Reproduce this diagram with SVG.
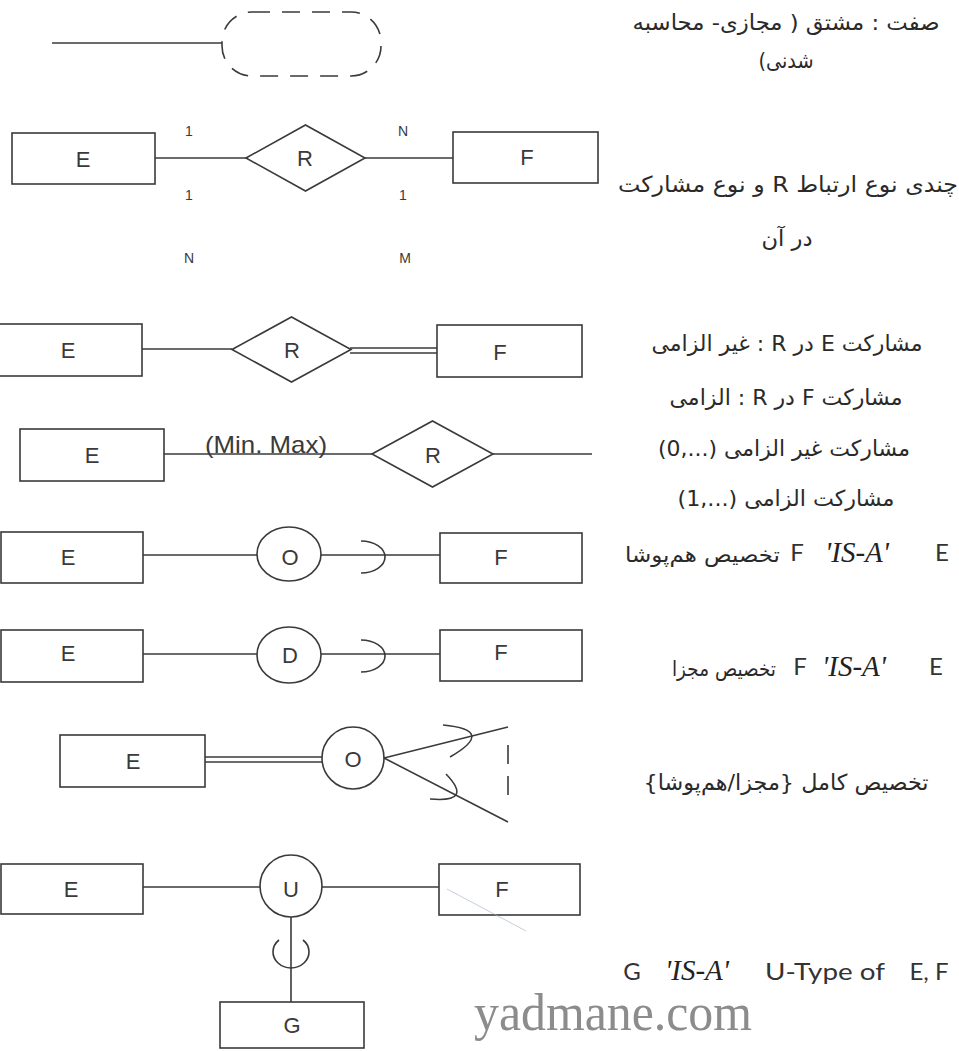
<svg xmlns="http://www.w3.org/2000/svg" width="959" height="1051" viewBox="0 0 959 1051">
<style>
.box{fill:none;stroke:#3a3a3a;stroke-width:1.6}
.ln{fill:none;stroke:#3a3a3a;stroke-width:1.6}
.lbl{font-family:"Liberation Sans",Arial,sans-serif;font-size:22px;fill:#3a3a3a;text-anchor:middle}
.card{font-family:"Liberation Sans",Arial,sans-serif;font-size:14px;fill:#3a3a3a;text-anchor:middle}
.fa{font-family:"DejaVu Sans",sans-serif;font-size:22px;fill:#2a2a2a;direction:rtl;text-anchor:middle}
.fl{font-family:"DejaVu Sans",sans-serif;font-size:22px;fill:#2a2a2a;text-anchor:middle}
.fe{font-family:"DejaVu Sans",sans-serif;font-size:21px;fill:#2a2a2a;text-anchor:end}
.isa{font-family:"Liberation Serif",serif;font-style:italic;font-size:29px;fill:#222;text-anchor:middle}
.lat{font-family:Lato,"Open Sans",sans-serif;font-size:24px;fill:#333;text-anchor:middle}
</style>
<rect width="959" height="1051" fill="#ffffff"/>

<!-- Row 1: derived attribute -->
<g id="row1-attr">
  <rect x="222" y="12" width="159" height="64" rx="30" ry="30" class="box" stroke-dasharray="18 12"/>
</g>
<g id="row1-text">
  <text class="fa" x="786" y="30" textLength="307" lengthAdjust="spacingAndGlyphs">صفت : مشتق ( مجازی- محاسبه</text>
  <text class="fa" x="786" y="68" textLength="55" lengthAdjust="spacingAndGlyphs">شدنی)</text>
</g>

<!-- Row 2 -->
<g id="row2-E"><rect x="12" y="133" width="143" height="51" class="box"/><text class="lbl" x="83" y="167">E</text></g>
<g id="row2-R"><polygon points="246,158 305.5,125 365,158 305.5,191" class="box"/><text class="lbl" x="305" y="166">R</text></g>
<g id="row2-F"><rect x="453" y="132" width="145" height="51" class="box"/><text class="lbl" x="527" y="165">F</text></g>
<g id="row2-card">
  <text class="card" x="189" y="136">1</text><text class="card" x="403" y="136">N</text>
  <text class="card" x="189" y="200">1</text><text class="card" x="403" y="200">1</text>
  <text class="card" x="189" y="263">N</text><text class="card" x="405" y="263">M</text>
</g>
<g id="row2-text">
  <text class="fa" x="788" y="192" textLength="340" lengthAdjust="spacingAndGlyphs">چندی نوع ارتباط R و نوع مشارکت</text>
  <text class="fa" x="787" y="246" textLength="51" lengthAdjust="spacingAndGlyphs">در آن</text>
</g>

<!-- Row 3 -->
<g id="row3-E"><rect x="-5" y="324" width="147" height="52" class="box"/><text class="lbl" x="68" y="358">E</text></g>
<g id="row3-R"><polygon points="232,349.5 291.5,317 351,349.5 291.5,382" class="box"/><text class="lbl" x="292" y="358">R</text></g>
<g id="row3-F"><rect x="437" y="325" width="145" height="52" class="box"/><text class="lbl" x="500" y="360">F</text></g>

<!-- Row 4 -->
<g id="row4-E"><rect x="20" y="429" width="144" height="52" class="box"/><text class="lbl" x="92" y="463">E</text></g>
<g id="row4-R"><polygon points="372,454 432.5,421 493,454 432.5,487" class="box"/><text class="lbl" x="433" y="463">R</text></g>
<g id="row4-label"><text x="205" y="453" font-family="Liberation Sans, Arial, sans-serif" font-size="24" fill="#3a3a3a" textLength="122" lengthAdjust="spacingAndGlyphs">(Min. Max)</text></g>

<g id="row34-text">
  <text class="fa" x="787" y="351" textLength="271" lengthAdjust="spacingAndGlyphs">مشارکت E در R : غیر الزامی</text>
  <text class="fa" x="786" y="405" textLength="233" lengthAdjust="spacingAndGlyphs">مشارکت F در R : الزامی</text>
  <text class="fl" x="784" y="456" textLength="252" lengthAdjust="spacingAndGlyphs">(0,...) مشارکت غیر الزامی</text>
  <text class="fl" x="786" y="506" textLength="217" lengthAdjust="spacingAndGlyphs">(1,...) مشارکت الزامی</text>
</g>

<!-- Row 5 -->
<g id="row5-E"><rect x="1" y="532" width="142" height="51" class="box"/><text class="lbl" x="68" y="565">E</text></g>
<g id="row5-O"><ellipse cx="289" cy="554" rx="32" ry="27" class="box"/><text class="lbl" x="290" y="565">O</text></g>
<g id="row5-F"><rect x="440" y="533" width="142" height="50" class="box"/><text class="lbl" x="501" y="565">F</text></g>
<g id="row5-text">
  <text class="fe" x="780" y="562" textLength="155" lengthAdjust="spacingAndGlyphs">تخصیص هم‌پوشا</text>
  <text class="lat" x="797" y="561">F</text>
  <text class="isa" x="857" y="562">'IS-A'</text>
  <text class="lat" x="942" y="561">E</text>
</g>

<!-- Row 6 -->
<g id="row6-E"><rect x="1" y="630" width="142" height="52" class="box"/><text class="lbl" x="68" y="661">E</text></g>
<g id="row6-D"><ellipse cx="289" cy="655" rx="32" ry="28" class="box"/><text class="lbl" x="290" y="663">D</text></g>
<g id="row6-F"><rect x="440" y="630" width="142" height="51" class="box"/><text class="lbl" x="501" y="660">F</text></g>
<g id="row6-text">
  <text class="fe" x="776" y="676" textLength="104" lengthAdjust="spacingAndGlyphs">تخصیص مجزا</text>
  <text class="lat" x="800" y="675">F</text>
  <text class="isa" x="854" y="676">'IS-A'</text>
  <text class="lat" x="936" y="675">E</text>
</g>

<!-- Row 7 -->
<g id="row7-E"><rect x="60" y="735" width="145" height="52" class="box"/><text class="lbl" x="133" y="769">E</text></g>
<g id="row7-O"><ellipse cx="353" cy="758" rx="31" ry="31" class="box"/><text class="lbl" x="353" y="767">O</text></g>
<g id="row7-text"><text class="fa" x="786" y="790" textLength="285" lengthAdjust="spacingAndGlyphs">تخصیص کامل {مجزا/هم‌پوشا}</text></g>

<!-- Row 8 -->
<g id="row8-E"><rect x="1" y="864" width="142" height="50" class="box"/><text class="lbl" x="71" y="897">E</text></g>
<g id="row8-U"><ellipse cx="291" cy="886" rx="31" ry="31" class="box"/><text class="lbl" x="291" y="897">U</text></g>
<g id="row8-F"><rect x="439" y="864" width="141" height="51" class="box"/><text class="lbl" x="502" y="897">F</text></g>
<g id="row8-G"><rect x="220" y="1002" width="144" height="46" class="box"/><text class="lbl" x="292" y="1033">G</text></g>
<g id="row8-text">
  <text class="lat" x="632" y="980">G</text>
  <text class="isa" x="697" y="980" font-size="30">'IS-A'</text>
  <text class="lat" x="825" y="980" textLength="120" lengthAdjust="spacingAndGlyphs">U-Type of</text>
  <text class="lat" x="929" y="980">E, F</text>
</g>

<!-- Connectors -->
<g id="connectors">
  <line x1="52" y1="43" x2="222" y2="43" class="ln"/>
  <line x1="155" y1="158" x2="246" y2="158" class="ln"/>
  <line x1="365" y1="158" x2="453" y2="158" class="ln"/>
  <line x1="142" y1="349" x2="232" y2="349" class="ln"/>
  <line x1="350" y1="348" x2="437" y2="348" class="ln"/>
  <line x1="350" y1="353" x2="437" y2="353" class="ln"/>
  <line x1="164" y1="454" x2="372" y2="454" class="ln"/>
  <line x1="493" y1="454" x2="592" y2="454" class="ln"/>
  <line x1="143" y1="555" x2="257" y2="555" class="ln"/>
  <line x1="321" y1="555" x2="440" y2="555" class="ln"/>
  <path d="M361,541 A24 16 0 0 1 361,573" class="ln"/>
  <line x1="143" y1="654" x2="257" y2="654" class="ln"/>
  <line x1="321" y1="654" x2="440" y2="654" class="ln"/>
  <path d="M361,640 A24 16 0 0 1 361,672" class="ln"/>
  <line x1="205" y1="757" x2="322" y2="757" class="ln"/>
  <line x1="205" y1="762" x2="322" y2="762" class="ln"/>
  <line x1="384" y1="758" x2="508" y2="727" class="ln"/>
  <line x1="384" y1="758" x2="508" y2="822" class="ln"/>
  <path d="M443,725 Q497,730 450,757" class="ln"/>
  <path d="M446,774 Q474,803 430,799" class="ln"/>
  <line x1="508" y1="745" x2="508" y2="764" class="ln"/>
  <line x1="508" y1="776" x2="508" y2="795" class="ln"/>
  <line x1="143" y1="887" x2="260" y2="887" class="ln"/>
  <line x1="322" y1="887" x2="439" y2="887" class="ln"/>
  <line x1="291" y1="917" x2="291" y2="1002" class="ln"/>
  <path d="M279,940 A18 16 0 1 0 303,940" class="ln"/>
  <line x1="447" y1="889" x2="526" y2="931" stroke="#9fb0c8" stroke-width="1" opacity="0.6"/>
</g>

<text x="474" y="1030" font-family="Liberation Serif, Times New Roman, serif" font-size="52" fill="#8c8c8c" textLength="278" lengthAdjust="spacingAndGlyphs">yadmane.com</text>
</svg>
